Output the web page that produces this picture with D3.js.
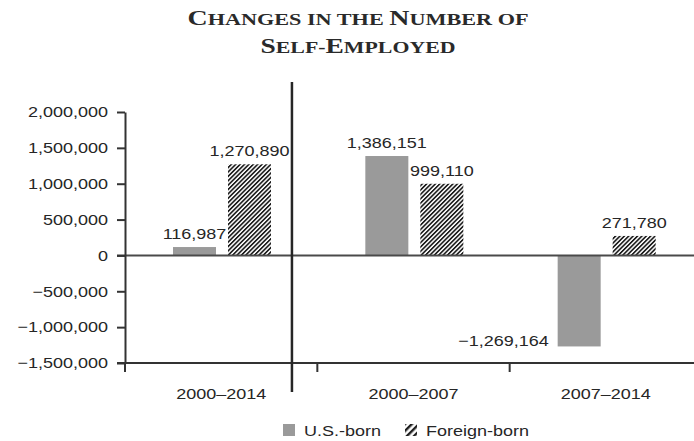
<!DOCTYPE html>
<html>
<head>
<meta charset="utf-8">
<script src="https://cdn.jsdelivr.net/npm/d3@7"></script>
<style>
  body { margin: 0; background: #fff; }
  .sans { font-family: "Liberation Sans", Arial, sans-serif; fill: #262626; font-size: 15px; }
</style>
</head>
<body>
<div id="plotarea"></div>
<script>
// chart data
var categories = ["2000\u20132014", "2000\u20132007", "2007\u20132014"];
var series = ["U.S.-born", "Foreign-born"];
var usBorn = [116987, 1386151, -1269164];
var foreignBorn = [1270890, 999110, 271780];
var yTicks = [2000000, 1500000, 1000000, 500000, 0, -500000, -1000000, -1500000];
var titleLines = ["Changes in the Number of", "Self-Employed"];

var width = 694, height = 441;
var margin_left = 125, margin_top = 112, margin_bottom = 78;
var plot_bottom = height - margin_bottom;
var stretchX = 1.2; // the source type is set wide

var svg = d3.select("#plotarea").append("svg")
    .attr("width", width)
    .attr("height", height);

// widen a text horizontally around its anchor point
function stretch(sel) {
  sel.each(function() {
    var t = d3.select(this);
    var tx = +t.attr("x") || 0, ty = +t.attr("y") || 0;
    t.attr("x", 0).attr("y", 0)
     .attr("transform", "translate(" + tx + "," + ty + ") scale(" + stretchX + ",1)");
  });
}

// hatch patterns for the foreign-born bars
var defs = svg.append("defs");
defs.append("pattern")
    .attr("id", "hatch")
    .attr("patternUnits", "userSpaceOnUse")
    .attr("width", 3.1).attr("height", 3.1)
    .attr("patternTransform", "rotate(45)")
  .append("line")
    .attr("x1", 0.8).attr("x2", 0.8).attr("y1", 0).attr("y2", 3.1)
    .attr("stroke", "#1e1e1e").attr("stroke-width", 1.7);
defs.append("pattern")
    .attr("id", "hatchBig")
    .attr("patternUnits", "userSpaceOnUse")
    .attr("width", 5).attr("height", 5)
    .attr("patternTransform", "rotate(45)")
  .append("line")
    .attr("x1", 1.2).attr("x2", 1.2).attr("y1", 0).attr("y2", 5)
    .attr("stroke", "#1e1e1e").attr("stroke-width", 2.4);

// scales
var x0 = d3.scaleBand().domain(categories).range([margin_left, 702]);
var x1 = d3.scaleBand().domain(series).range([48, 146]).paddingInner(0.218);
var y = d3.scaleLinear().domain([-1500000, 2000000]).range([plot_bottom, margin_top]);

var color = d3.scaleOrdinal().domain(series).range(["#9a9a9a", "url(#hatch)"]);

var fmt = d3.format(",");

// combine into rows
var arr = [];
categories.forEach(function(c, i) {
  arr.push({cat: c, group: series[0], value: usBorn[i]});
  arr.push({cat: c, group: series[1], value: foreignBorn[i]});
});

// title, small caps built by hand: capitals big, the rest smaller upper case
var titleWidths = [341, 195];
var title = svg.append("g");
titleLines.forEach(function(line, i) {
  var t = title.append("text")
      .attr("x", 358)
      .attr("y", 25 + i * 28)
      .attr("text-anchor", "middle")
      .attr("textLength", titleWidths[i])
      .attr("lengthAdjust", "spacingAndGlyphs")
      .style("font-family", "'Liberation Serif', 'DejaVu Serif', serif")
      .style("font-weight", "bold")
      .style("fill", "#2a2a2a");
  line.split("").forEach(function(ch) {
    var big = ch !== ch.toLowerCase();
    t.append("tspan")
        .style("font-size", big ? "22px" : "17.5px")
        .text(ch.toUpperCase());
  });
});

// bars
svg.selectAll(".bar")
  .data(arr)
  .enter().append("rect")
    .attr("class", "bar")
    .attr("x", function(d) { return x0(d.cat) + x1(d.group); })
    .attr("y", function(d) { return y(Math.max(0, d.value)); })
    .attr("width", x1.bandwidth())
    .attr("height", function(d) { return Math.abs(y(d.value) - y(0)); })
    .attr("fill", function(d) { return color(d.group); });

// zero line
svg.append("line")
    .attr("x1", margin_left - 8).attr("x2", width)
    .attr("y1", y(0)).attr("y2", y(0))
    .attr("stroke", "#4a4a4a").attr("stroke-width", 2);

// y axis
var yAxis = svg.append("g")
    .attr("transform", "translate(" + margin_left + ",0)")
    .call(d3.axisLeft(y).tickValues(yTicks).tickFormat(fmt).tickSize(8).tickSizeOuter(0).tickPadding(9));
yAxis.attr("font-family", null).attr("font-size", null);
yAxis.select(".domain").attr("stroke", "#333").attr("stroke-width", 2);
yAxis.selectAll(".tick line").attr("stroke", "#333").attr("stroke-width", 2);
yAxis.selectAll(".tick text").attr("class", "sans").call(stretch);

// bottom axis line and ticks at band edges
svg.append("line")
    .attr("x1", margin_left - 8).attr("x2", width)
    .attr("y1", plot_bottom).attr("y2", plot_bottom)
    .attr("stroke", "#333").attr("stroke-width", 2);
svg.selectAll(".xtick")
  .data(categories)
  .enter().append("line")
    .attr("class", "xtick")
    .attr("x1", function(d) { return x0(d); })
    .attr("x2", function(d) { return x0(d); })
    .attr("y1", plot_bottom - 1).attr("y2", plot_bottom + 9)
    .attr("stroke", "#333").attr("stroke-width", 2);

svg.selectAll(".xlabel")
  .data(categories)
  .enter().append("text")
    .attr("class", "sans")
    .attr("x", function(d) { return x0(d) + x0.bandwidth() / 2; })
    .attr("y", plot_bottom + 36)
    .attr("text-anchor", "middle")
    .text(function(d) { return d; })
    .call(stretch);

// divider between the full period and the sub periods
var sepX = x0(categories[0]) + x0.bandwidth() * 0.868;
svg.append("line")
    .attr("x1", sepX).attr("x2", sepX)
    .attr("y1", 82).attr("y2", plot_bottom + 29)
    .attr("stroke", "#262626").attr("stroke-width", 2.5);

// value labels
svg.selectAll(".vlabel")
  .data(arr)
  .enter().append("text")
    .attr("class", "sans")
    .attr("x", function(d) {
      var cx = x0(d.cat) + x1(d.group) + x1.bandwidth() / 2;
      return d.value < 0 ? x0(d.cat) + x1(d.group) - 9 : cx;
    })
    .attr("y", function(d) { return d.value < 0 ? y(d.value) : y(d.value) - 8; })
    .attr("text-anchor", function(d) { return d.value < 0 ? "end" : "middle"; })
    .text(function(d) { return fmt(d.value); })
    .call(stretch);

// legend
var legend = svg.append("g").attr("transform", "translate(283,424)");
var legX = [0, 122];
series.forEach(function(s, i) {
  legend.append("rect")
      .attr("x", legX[i]).attr("y", 0)
      .attr("width", 12).attr("height", 12)
      .attr("fill", i === 0 ? color(s) : "url(#hatchBig)");
  legend.append("text")
      .attr("class", "sans")
      .attr("x", legX[i] + 21).attr("y", 12)
      .text(s)
      .call(stretch);
});
</script>
</body>
</html>
